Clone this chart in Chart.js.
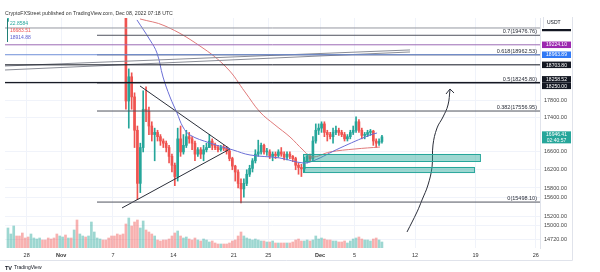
<!DOCTYPE html>
<html>
<head>
<meta charset="utf-8">
<title>BTC/USDT 8h</title>
<script src="https://cdn.jsdelivr.net/npm/chart.js@4.4.1/dist/chart.umd.min.js"></script>
<style>
  html, body { margin: 0; padding: 0; background: #fff; }
  canvas { display: block; }
</style>
</head>
<body>
<canvas id="chart" width="600" height="272"></canvas>
<script>
// time is counted in days from Nov 1 2022 00:00 UTC, candles are 8h
const firstBarDay = -6 - 1 / 3; // Oct 25 16:00
const barDays = 1 / 3;
const firstOpen = 19950;

const closes = [
  20090,                 // Oct 25
  20650, 20800, 20770,   // Oct 26
  20600, 20400, 20290,
  20250, 20450, 20600,
  20750, 20900, 20820,
  20750, 20650, 20620,
  20550, 20400, 20490,   // Oct 31
  20550, 20450, 20480,   // Nov 1
  20400, 20550, 20150,
  20200, 20250, 20210,
  20450, 21000, 21150,
  21300, 21350, 21300,
  21200, 21050, 20900,
  20850, 20700, 20590,
  20200, 17800, 18400,   // Nov 8
  17900, 17100, 15900,
  16700, 17600, 17550,
  17200, 17000, 17050,
  16950, 16850, 16800,
  16700, 16500, 16300,
  16050, 16900, 16600,   // Nov 14
  16750, 16950, 16900,
  16800, 16550, 16650,
  16550, 16650, 16700,
  16850, 16750, 16700,
  16650, 16700, 16680,
  16620, 16450, 16280,
  16150, 15900, 15780,   // Nov 21
  15900, 16100, 16230,
  16400, 16550, 16600,
  16750, 16600, 16600,
  16500, 16550, 16520,
  16600, 16550, 16480,
  16550, 16500, 16450,
  16300, 16250, 16220,   // Nov 28
  16400, 16500, 16450,
  16850, 17100, 17150,
  17250, 17050, 17000,   // Dec 1
  16950, 17050, 17100,
  17050, 17000, 16900,
  16950, 17050, 17100,
  17300, 17100, 16980,
  17000, 17050, 17080,
  16850, 16800, 16840,
  16946.41               // Dec 8
];

const highs = [
  20400,
  20800, 20880, 20850,
  20790, 20650, 20450,
  20350, 20500, 20750,
  20800, 21000, 20950,
  20850, 20800, 20700,
  20700, 20800, 20600,
  20650, 20600, 20550,
  20500, 20800, 20500,
  20300, 20400, 20300,
  20550, 21100, 21250,
  21450, 21480, 21400,
  21350, 21250, 21100,
  20950, 20850, 20700,
  20650, 20700, 18600,
  18500, 18000, 17200,
  16800, 18050, 18150,
  17650, 17300, 17150,
  17100, 17000, 16900,
  16850, 16750, 16550,
  16350, 17150, 17200,
  17000, 17100, 17050,
  16950, 16850, 16700,
  16700, 16750, 16800,
  17000, 16900, 16800,
  16750, 16750, 16750,
  16720, 16650, 16480,
  16300, 16200, 16000,
  16000, 16200, 16300,
  16450, 16650, 16870,
  16800, 16780, 16680,
  16650, 16600, 16600,
  16650, 16700, 16600,
  16600, 16600, 16520,
  16480, 16350, 16320,
  16480, 16550, 16550,
  16950, 17250, 17250,
  17300, 17300, 17100,
  17050, 17150, 17200,
  17150, 17100, 17050,
  17000, 17100, 17200,
  17420, 17350, 17150,
  17050, 17100, 17120,
  17100, 16900, 16900,
  16980
];

const lows = [
  19850,
  20050, 20600, 20650,
  20550, 20300, 20200,
  20000, 20150, 20400,
  20550, 20700, 20750,
  20650, 20550, 20500,
  20450, 20300, 20350,
  20400, 20350, 20400,
  20300, 20350, 20050,
  20050, 20100, 20100,
  20200, 20400, 20950,
  21150, 21250, 21200,
  21150, 20950, 20850,
  20700, 20500, 20400,
  19950, 17600, 17150,
  17600, 16700, 15550,
  15700, 16600, 17300,
  17000, 16850, 16400,
  16850, 16750, 16700,
  16600, 16350, 16150,
  15850, 15950, 16500,
  16550, 16700, 16800,
  16650, 16400, 16500,
  16450, 16400, 16600,
  16700, 16650, 16650,
  16600, 16620, 16630,
  16550, 16400, 16200,
  15950, 15800, 15480,
  15600, 15850, 16050,
  16150, 16350, 16500,
  16550, 16550, 16520,
  16450, 16400, 16450,
  16480, 16500, 16420,
  16420, 16450, 16380,
  16200, 16100, 16050,
  16150, 16350, 16400,
  16400, 16800, 17000,
  17050, 16950, 16850,
  16900, 16800, 17000,
  16980, 16950, 16850,
  16850, 16900, 17000,
  17050, 17050, 16900,
  16900, 16950, 16980,
  16750, 16700, 16750,
  16800
];

const volumes = [
  20,
  14, 22, 12,
  12, 15, 10,
  11, 14, 10,
  9, 10, 8,
  8, 10, 9,
  10, 14, 12,
  11, 13, 10,
  10, 18, 28,
  14, 12, 11,
  12, 26, 16,
  10, 9, 8,
  8, 10, 12,
  12, 14, 13,
  14, 24, 30,
  22, 26, 28,
  20, 27, 18,
  16, 14, 12,
  8, 7, 8,
  8, 9, 12,
  15, 17, 12,
  10, 11, 9,
  8, 10, 8,
  7, 9, 8,
  6, 7, 5,
  4, 4, 4,
  4, 5, 7,
  8, 12, 16,
  12, 10, 9,
  8, 9, 8,
  7, 7, 6,
  6, 7, 5,
  5, 5, 5,
  5, 5, 6,
  8, 9, 7,
  7, 8, 7,
  8, 12, 9,
  10, 9, 8,
  8, 7, 7,
  6, 6, 7,
  5, 7, 9,
  10, 11, 9,
  8, 8, 7,
  9, 10, 8,
  6
];

// axes
const dayMin = -6.51;
const dayMax = 55.48;
const priceMin = 14553;
const priceMax = 19943;
const xTickDays = [-4, 0, 6, 13, 20, 24, 30, 34, 41, 48, 55];
const xTickLabels = ["28", "Nov", "7", "14", "21", "25", "Dec", "5", "12", "19", "26"];
const yTicks = [17800, 17400, 16600, 16200, 15800, 15600, 15200, 15000, 14720];

// fibonacci retracement
const fibStartDay = 4.15;
const fibPrices = [19476.76, 18962.53, 18245.80, 17556.95, 15498.10];
const fibLabels = ["0.7(19476.76)", "0.618(18962.53)", "0.5(18245.80)", "0.382(17556.95)", "0(15498.10)"];

// horizontal levels across the whole chart
const levelPrices = [19672, 19224.10, 18963.89, 18703.80, 18258.52, 18250.00];
const levelTags = ["", "19224.10", "18963.89", "18703.80", "18258.52", "18250.00"];
const levelColors = ["#9598a1", "#9c6bb5", "#6f8fd8", "#131722", "#131722", "#131722"];
const tagColors = ["#131722", "#9c27b0", "#3179f5", "#131722", "#131722", "#131722"];

// drawn lines
const blueDays = [8.78, 10.29, 11.10, 11.80, 12.61, 13.42, 14.11, 14.92, 17.22, 19.91, 21.88, 25.33, 28.02, 29.18, 32.31, 35.79, 36.60];
const bluePrices = [19890, 19350, 19010, 18395, 17898, 17510, 17177, 16990, 16805, 16645, 16531, 16463, 16351, 16396, 16690, 16990, 17036];
const redDays = [9.13, 12.03, 16.08, 19.21, 21.30, 23.03, 24.77, 26.51, 28.02, 29.06, 31.15, 34.04, 36.94];
const redPrices = [19917, 19727, 19192, 18622, 18021, 17534, 17225, 16944, 16645, 16487, 16599, 16667, 16712];
const triUpperDays = [9.13, 19.56];
const triUpperPrices = [18170, 16667];
const triLowerDays = [7.05, 19.56];
const triLowerPrices = [15374, 16667];
const wedgeDays = [[-6.51, 40.42], [-6.51, 40.42]];
const wedgePrices = [[18572, 19036], [18674, 19089]];
const pathDays = [40.07, 41.23, 41.81, 42.50, 42.97, 43.08, 43.55, 44.24, 44.82, 45.05];
const pathPrices = [14876, 15290, 15543, 15865, 16262, 16759, 17154, 17414, 17702, 18070];
const arrowDays = [44.59, 45.05, 45.52];
const arrowPrices = [17971, 18095, 17996];

// demand zones
const zoneStartDays = [28.02, 28.02];
const zoneEndDays = [48.52, 47.83];
const zoneTops = [16554, 16262];
const zoneBottoms = [16396, 16150];

const legendValues = ["22.8584", "16683.51", "18914.88"];
const legendColors = ["#26a69a", "#ef5350", "#5b5fd0"];
const countdown = "02:40:57";

const UP = "#26a69a";
const DOWN = "#ef5350";
const FONT = '"Liberation Sans", Arial, sans-serif';

const opens = closes.map((c, i) => (i === 0 ? firstOpen : closes[i - 1]));
const times = closes.map((c, i) => firstBarDay + (i + 0.5) * barDays);
const candleColors = closes.map((c, i) => (c >= opens[i] ? UP : DOWN));
const volumeColors = closes.map((c, i) =>
  c >= opens[i] ? "rgba(38,166,154,0.45)" : "rgba(239,83,80,0.45)"
);

function pairs(xs, ys) {
  return xs.map((x, i) => ({ x, y: ys[i] }));
}

function line(data, color, width, tension) {
  return {
    type: "line",
    data,
    borderColor: color,
    borderWidth: width,
    pointRadius: 0,
    tension: tension || 0,
    yAxisID: "y",
    order: 0,
  };
}

const datasets = [
  {
    label: "volume",
    type: "bar",
    yAxisID: "vol",
    data: pairs(times, volumes),
    backgroundColor: volumeColors,
    barThickness: 2,
    grouped: false,
    order: 10,
  },
  {
    label: "wicks",
    type: "bar",
    yAxisID: "y",
    data: times.map((t, i) => ({ x: t, y: [lows[i], highs[i]] })),
    backgroundColor: candleColors,
    barThickness: 1,
    grouped: false,
    order: 3,
  },
  {
    label: "bodies",
    type: "bar",
    yAxisID: "y",
    data: times.map((t, i) => ({ x: t, y: [opens[i], closes[i]] })),
    backgroundColor: candleColors,
    barThickness: 2,
    minBarLength: 1,
    grouped: false,
    order: 2,
  },
];

levelPrices.forEach((p, i) => {
  datasets.push(line([{ x: dayMin, y: p }, { x: dayMax, y: p }], levelColors[i], 1));
});
fibPrices.forEach((p) => {
  datasets.push(line([{ x: fibStartDay, y: p }, { x: dayMax, y: p }], "#50535e", 1));
});
wedgeDays.forEach((d, i) => {
  datasets.push(line(pairs(d, wedgePrices[i]), "#8a8d96", 1));
});
datasets.push(line(pairs(blueDays, bluePrices), "#6b6fd6", 1, 0.4));
datasets.push(line(pairs(redDays, redPrices), "#e07a7a", 1, 0.4));
datasets.push(line(pairs(triUpperDays, triUpperPrices), "#2a2e39", 1));
datasets.push(line(pairs(triLowerDays, triLowerPrices), "#2a2e39", 1));
datasets.push(line(pairs(pathDays, pathPrices), "#2a2e39", 1, 0.4));
datasets.push(line(pairs(arrowDays, arrowPrices), "#2a2e39", 1));

const overlay = {
  id: "overlay",
  afterDatasetsDraw(chart) {
    const { ctx, scales: { x, y } } = chart;
    ctx.save();
    zoneStartDays.forEach((d0, i) => {
      const x0 = x.getPixelForValue(d0);
      const x1 = x.getPixelForValue(zoneEndDays[i]);
      const y0 = y.getPixelForValue(zoneTops[i]);
      const y1 = y.getPixelForValue(zoneBottoms[i]);
      ctx.fillStyle = "rgba(38,166,154,0.45)";
      ctx.fillRect(x0, y0, x1 - x0, y1 - y0);
      ctx.strokeStyle = "#26a69a";
      ctx.lineWidth = 1;
      ctx.strokeRect(Math.round(x0) + 0.5, Math.round(y0) + 0.5, x1 - x0, y1 - y0);
    });
    ctx.restore();
  },
  afterDraw(chart) {
    const { ctx, chartArea: a, scales: { y } } = chart;
    ctx.save();

    // frame of the pane
    ctx.strokeStyle = "#e0e3eb";
    ctx.lineWidth = 1;
    ctx.beginPath();
    ctx.moveTo(572.5, 17);
    ctx.lineTo(572.5, 260.5);
    ctx.lineTo(0, 260.5);
    ctx.stroke();

    // fib level captions
    ctx.font = `5.5px ${FONT}`;
    ctx.fillStyle = "#2a2e39";
    ctx.textAlign = "right";
    ctx.textBaseline = "bottom";
    fibPrices.forEach((p, i) => {
      ctx.fillText(fibLabels[i], a.right - 3, y.getPixelForValue(p) - 1);
    });

    // price tags on the axis, pushed apart when they overlap
    const tagH = 6.5;
    const tags = levelPrices
      .map((p, i) => ({ y: y.getPixelForValue(p), text: levelTags[i], color: tagColors[i] }))
      .sort((m, n) => m.y - n.y);
    for (let i = 1; i < tags.length; i++) {
      if (tags[i].y - tags[i - 1].y < tagH) {
        const mid = (tags[i].y + tags[i - 1].y) / 2;
        tags[i - 1].y = mid - tagH / 2;
        tags[i].y = mid + tagH / 2;
      }
    }
    ctx.textAlign = "center";
    ctx.textBaseline = "middle";
    ctx.font = `5px ${FONT}`;
    tags.forEach((t) => {
      ctx.fillStyle = t.color;
      ctx.fillRect(a.right + 2, t.y - tagH / 2, 29, tagH);
      if (t.text) {
        ctx.fillStyle = "#fff";
        ctx.fillText(t.text, a.right + 16.5, t.y + 0.3);
      }
    });

    // last price tag with countdown
    const last = closes[closes.length - 1];
    const ly = y.getPixelForValue(last);
    ctx.fillStyle = UP;
    ctx.fillRect(a.right + 2, ly - 5.5, 29, 12);
    ctx.fillStyle = "#fff";
    ctx.fillText(last.toFixed(2), a.right + 16.5, ly - 2.4);
    ctx.fillText(countdown, a.right + 16.5, ly + 3.4);

    // currency cell over the top of the axis
    ctx.fillStyle = "#fff";
    ctx.fillRect(a.right + 1, 17, 31, 12);
    ctx.strokeStyle = "#e0e3eb";
    ctx.beginPath();
    ctx.moveTo(a.right + 3.5, 17);
    ctx.lineTo(a.right + 3.5, 28);
    ctx.stroke();
    ctx.fillStyle = "#131722";
    ctx.textAlign = "left";
    ctx.fillText("USDT", a.right + 7, 23);

    // header
    ctx.font = `5.2px ${FONT}`;
    ctx.fillStyle = "#333";
    ctx.textBaseline = "middle";
    ctx.fillText("CryptoFXStreet published on TradingView.com, Dec 08, 2022 07:18 UTC", 5, 14);

    // indicator legend
    ctx.fillStyle = "#1f7f75";
    ctx.fillRect(7, 19, 1, 23);
    ctx.font = `5px ${FONT}`;
    legendValues.forEach((v, i) => {
      ctx.fillStyle = legendColors[i];
      ctx.fillText(v, 10, 24 + i * 7);
    });

    // logo
    ctx.fillStyle = "#131722";
    ctx.font = `bold 5.5px ${FONT}`;
    ctx.fillText("TV", 5, 268);
    ctx.font = `5px ${FONT}`;
    ctx.fillText("TradingView", 14, 268);

    ctx.restore();
  },
};

new Chart(document.getElementById("chart"), {
  type: "bar",
  data: { datasets },
  options: {
    responsive: false,
    animation: false,
    events: [],
    layout: { padding: { left: 5, top: 18, right: 28, bottom: 12 } },
    plugins: { legend: { display: false }, tooltip: { enabled: false } },
    scales: {
      x: {
        type: "linear",
        min: dayMin,
        max: dayMax,
        offset: false,
        grid: { color: "#f0f3fa", drawTicks: false, offset: false },
        border: { display: false },
        afterBuildTicks: (axis) => {
          axis.ticks = xTickDays.map((v) => ({ value: v }));
        },
        afterFit: (axis) => {
          axis.height = 12;
        },
        ticks: {
          autoSkip: false,
          maxRotation: 0,
          padding: 4,
          color: "#333",
          font: (ctx) => ({
            family: FONT,
            size: 5.5,
            weight: ctx.tick && (ctx.tick.value === 0 || ctx.tick.value === 30) ? "bold" : "normal",
          }),
          callback: (v) => xTickLabels[xTickDays.indexOf(v)],
        },
      },
      y: {
        type: "logarithmic",
        position: "right",
        min: priceMin,
        max: priceMax,
        beginAtZero: false,
        grid: { color: "#f0f3fa", drawTicks: false },
        border: { display: true, color: "#e0e3eb" },
        afterBuildTicks: (axis) => {
          axis.ticks = yTicks.map((v) => ({ value: v }));
        },
        afterFit: (axis) => {
          axis.width = 32;
        },
        ticks: {
          autoSkip: false,
          padding: 4,
          color: "#444",
          font: { family: FONT, size: 5.5 },
          callback: (v) => Number(v).toFixed(2),
        },
      },
      vol: {
        type: "linear",
        display: false,
        min: 0,
        max: 230,
      },
    },
  },
  plugins: [overlay],
});
</script>
</body>
</html>
